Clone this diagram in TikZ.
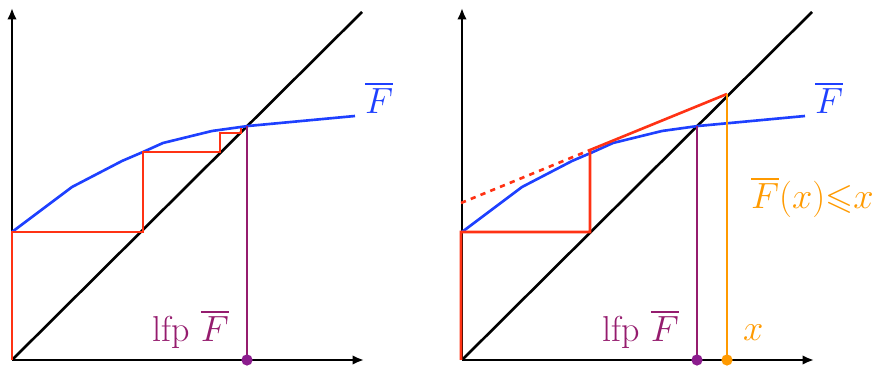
\documentclass[tikz,border=0pt]{standalone}
\usepackage{amsmath,amssymb}
\usetikzlibrary{arrows.meta}
\definecolor{fblue}{HTML}{1E40FF}
\definecolor{stepred}{HTML}{FF3214}
\definecolor{lfpcol}{HTML}{951C6E}
\definecolor{lfpdot}{HTML}{8C1D8E}
\definecolor{xorange}{HTML}{FF9A00}

\begin{document}
\begin{tikzpicture}[>={Latex[length=6.5pt,width=5.5pt]},x=0.02cm,y=-0.02cm,line width=1.5pt,
  lbl/.style={anchor=base west,font=\fontsize{20.5}{24}\selectfont}]
\useasboundingbox (0,0) rectangle (873,367);
% common part of both panels
\foreach \dx in {0,450}{
\begin{scope}[shift={(\dx,0)}]
\coordinate (o) at (12,360);
\draw[->] (o)--(12,8);
\draw[->] (o)--(364,360);
\draw (o)--(362,12);
\draw[fblue] (12,232)--(72,187)--(122,161)--(143,152)--(163,143)--(212,131)--(248,126)--(355,116);
\node[fblue,lbl] (fbar) at (358,114) {$\overline{F}$};
\coordinate (lfp) at (247,126);
\coordinate (lfpx) at (247,360);
\draw[lfpcol] (lfp)--(lfpx);
\node[lfpcol,lbl,anchor=base east] (lfplab) at (236,342) {lfp $\overline{F}$};
\end{scope}}
% left: Kleene iteration
\draw[stepred] (12,360)--(12,232)--(143,232)--(143,152)--(220,152)--(220,133)--(241,133)--(241,128);
\fill[lfpdot] (247,360) circle (3.2pt);
% right: post-fixpoint
\coordinate (x) at (727,94);
\coordinate (xb) at (727,360);
\draw[stepred] (461,360)--(461,232)--(590,232)--(590,150)--(x);
\draw[stepred,dashed] (461,203)--(590,150);
\draw[xorange] (x)--(xb);
\fill[lfpdot] (697,360) circle (3.2pt);
\fill[xorange] (xb) circle (3.2pt);
\node[xorange,lbl] (xlab) at (736,341) {$x$};
\node[xorange,lbl] (post) at (744,209) {$\overline{F}(x){\leqslant}x$};
\end{tikzpicture}
\end{document}
